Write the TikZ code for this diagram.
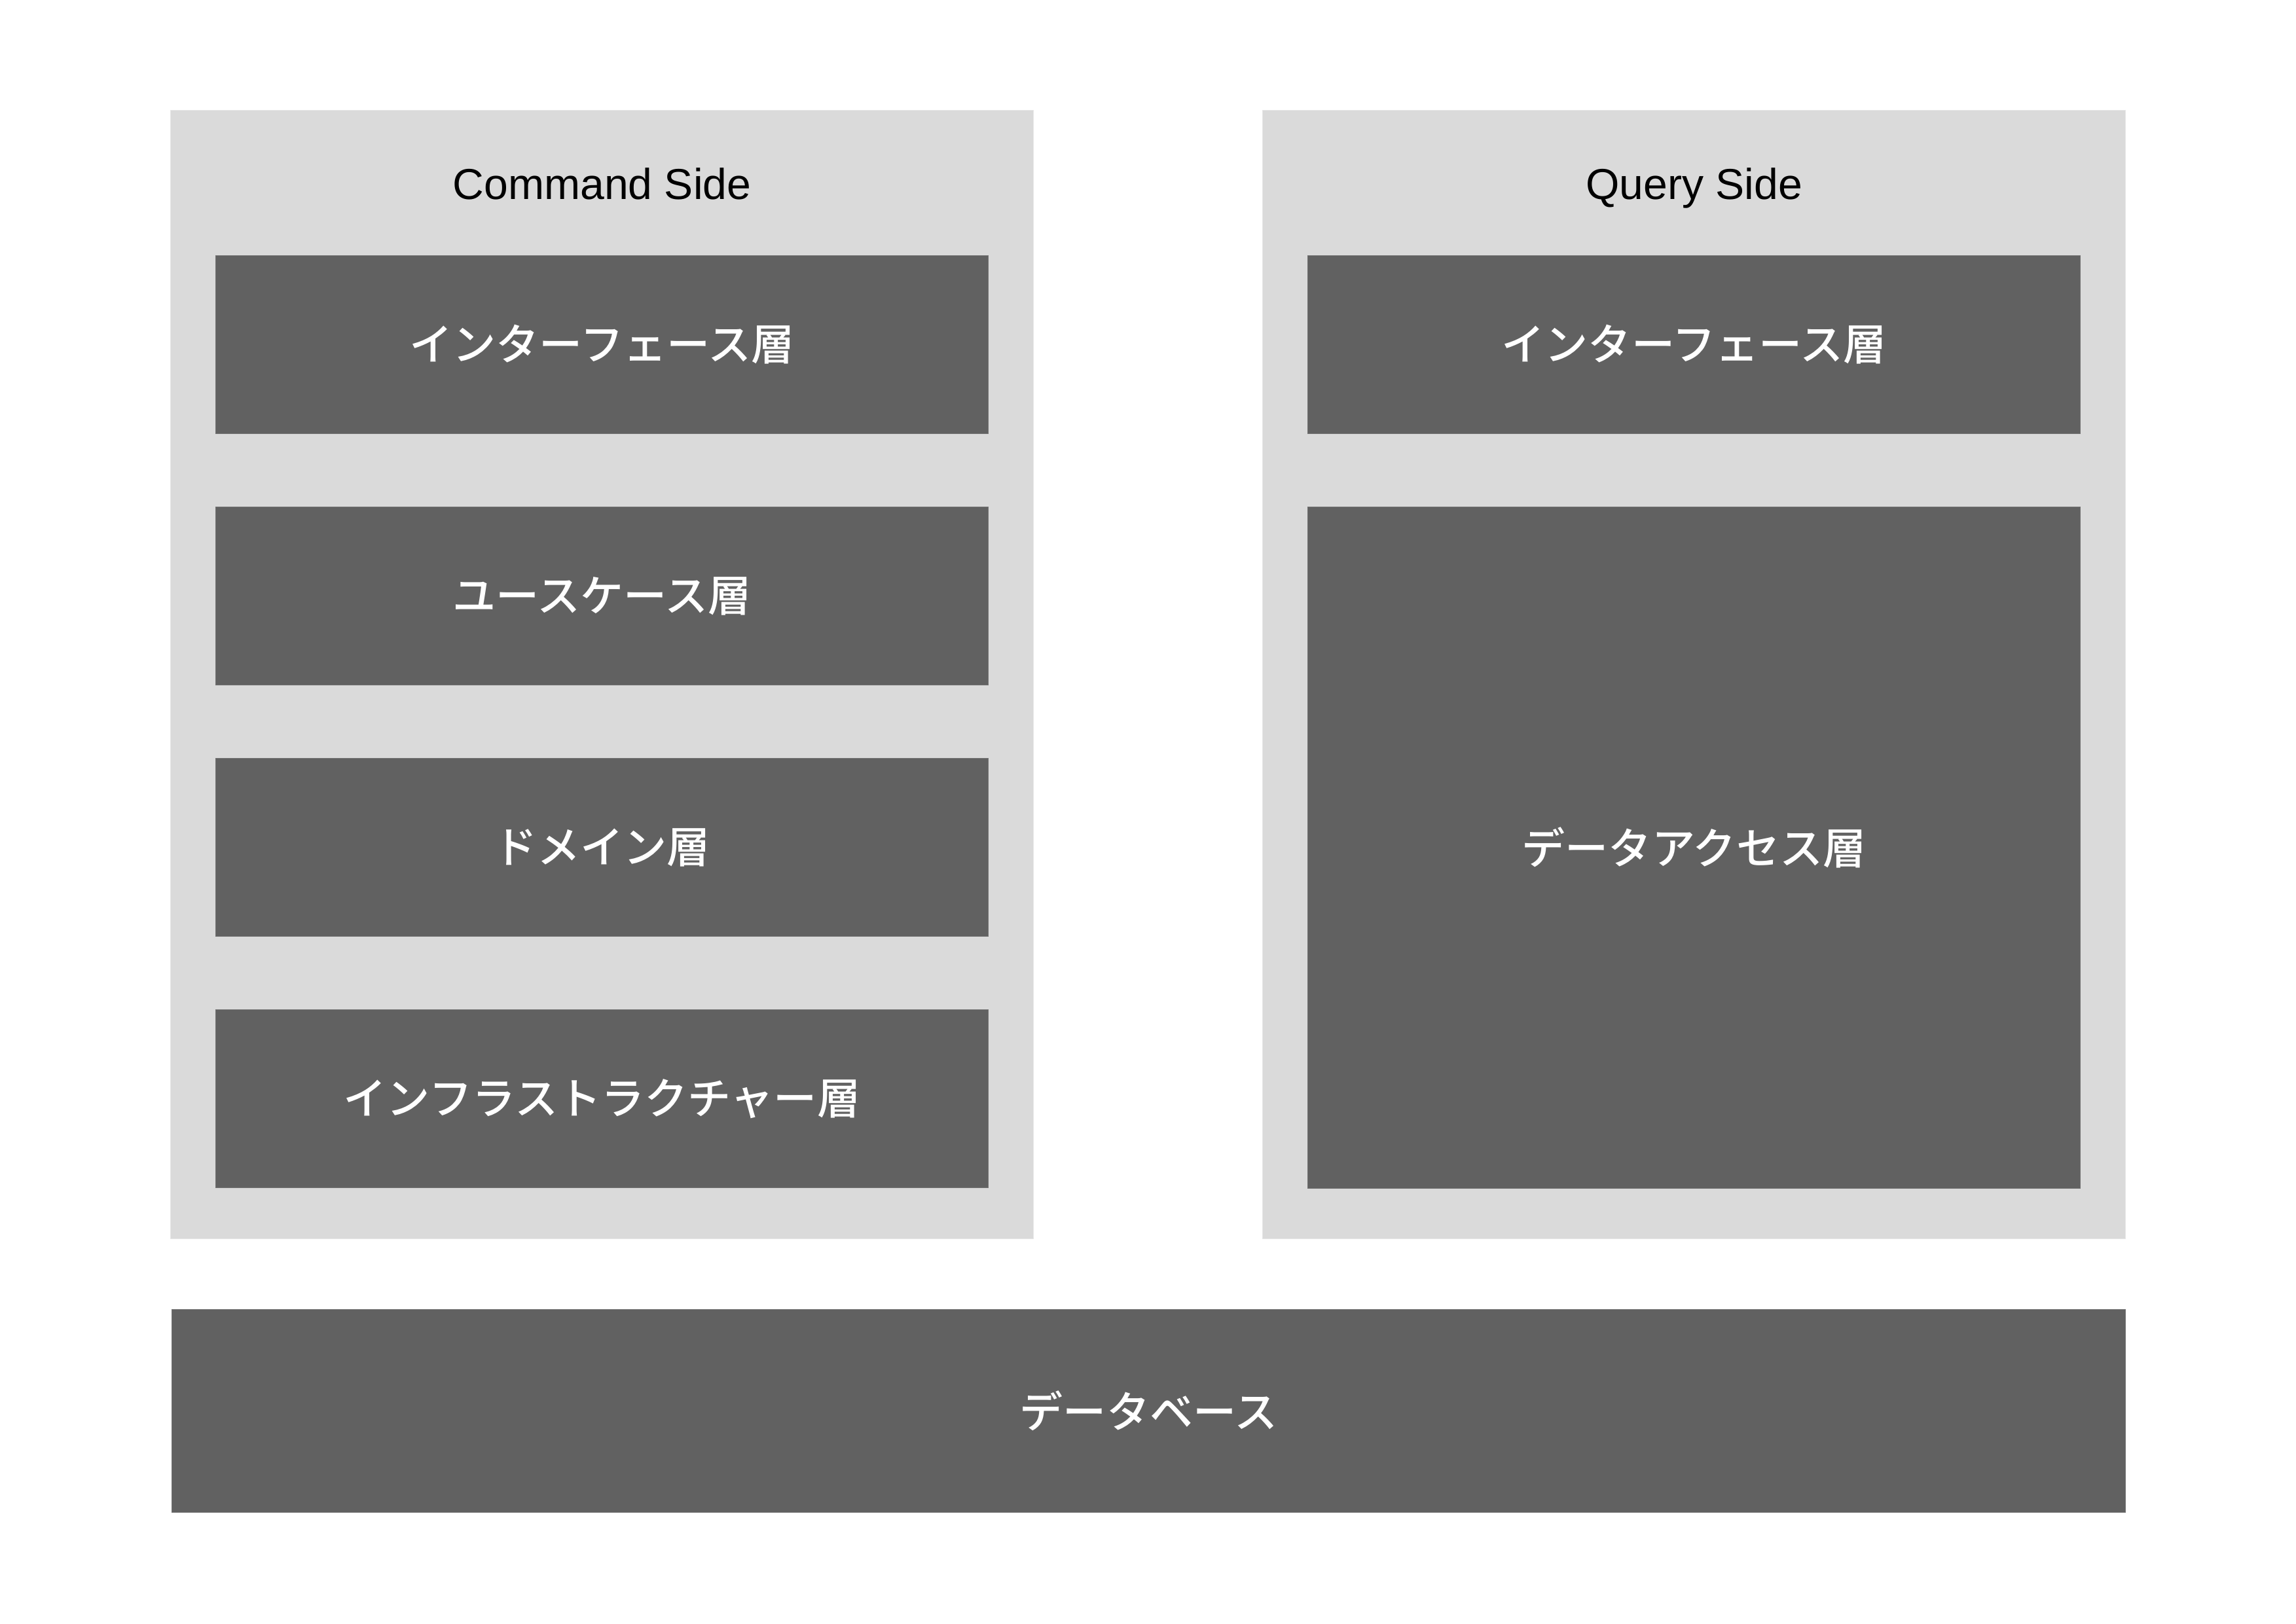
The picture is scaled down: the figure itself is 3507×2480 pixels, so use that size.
\documentclass[tikz,border=0pt]{standalone}
\usepackage{fontspec}
\setmainfont{Liberation Sans}
\newfontfamily\jpfont[UprightFont={* Medium}]{Noto Sans CJK JP}
\definecolor{panelgray}{HTML}{DADADA}
\definecolor{paneledge}{HTML}{E6E6E6}
\definecolor{layergray}{HTML}{616161}
\definecolor{layeredge}{HTML}{727272}
\begin{document}
\begin{tikzpicture}[x=0.01cm,y=-0.01cm,
  every node/.style={font=\fontsize{18.8pt}{22pt}\selectfont},
  panel/.style={rectangle,fill=panelgray,draw=paneledge,line width=0.3pt,inner sep=0pt,
    minimum width=13.17cm,minimum height=17.23cm},
  paneltitle/.style={text=black,anchor=base,inner sep=0pt},
  layer/.style={rectangle,fill=layergray,draw=layeredge,line width=0.3pt,inner sep=0pt,
    minimum width=11.79cm,minimum height=2.71cm,text=white,font=\jpfont\fontsize{18.8pt}{22pt}\selectfont}]
  \useasboundingbox[fill=white] (0,0) rectangle (3507,2480);

  % the two sides
  \node[panel] (cmd) at (919.5,1030.5) {};
  \node[panel] (qry) at (2587.5,1030.5) {};
  \node[paneltitle] (cmdtitle) at (919.5,304) {Command Side};
  \node[paneltitle] (qrytitle) at (2587.5,304) {Query Side};

  % command side layers
  \node[layer] (cif)  at (919.5,526.5)  {インターフェース層};
  \node[layer] (cuc)  at (919.5,910.5)  {ユースケース層};
  \node[layer] (cdom) at (919.5,1294.5) {ドメイン層};
  \node[layer] (cinf) at (919.5,1678.5) {インフラストラクチャー層};

  % query side layers
  \node[layer] (qif) at (2587.5,526.5) {インターフェース層};
  \node[layer,minimum height=10.40cm] (qda) at (2587.5,1295) {データアクセス層};

  % shared store
  \node[layer,minimum width=29.83cm,minimum height=3.09cm] (db) at (1754.5,2155.5) {データベース};
\end{tikzpicture}
\end{document}
